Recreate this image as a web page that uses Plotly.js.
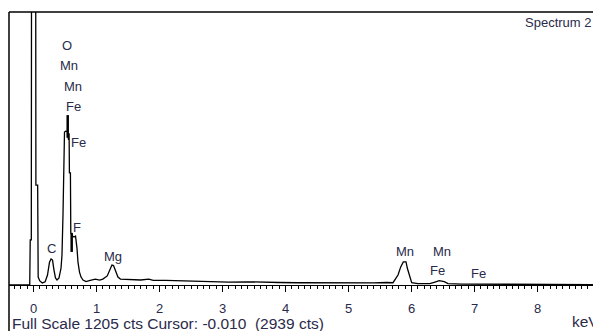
<!DOCTYPE html>
<html>
<head>
<meta charset="utf-8">
<script src="https://cdn.plot.ly/plotly-3.0.1.min.js"></script>
<style>
html,body{margin:0;padding:0;background:#fff;}
#chart{width:593px;height:331px;}
</style>
</head>
<body>
<div id="chart"></div>
<script>
// Spectrum: energy (keV) and counts
const energy = [-0.39,-0.06,-0.052,-0.035,-0.027,-0.010,0.030,0.038,0.066,0.074,0.100,0.140,0.185,0.222,0.254,0.278,0.302,0.325,0.349,0.373,0.405,0.437,0.452,0.468,0.481,0.492,0.516,0.540,0.556,0.565,0.570,0.586,0.592,0.600,0.619,0.643,0.667,0.690,0.706,0.730,0.754,0.786,0.833,0.90,0.98,1.05,1.10,1.17,1.21,1.245,1.27,1.30,1.34,1.38,1.5,1.7,1.83,1.9,2.1,2.3,2.5,2.8,3.1,3.4,3.6,3.9,4.2,4.5,4.8,5.1,5.4,5.6,5.706,5.786,5.829,5.870,5.913,5.933,5.965,6.003,6.10,6.29,6.36,6.44,6.52,6.58,6.8,7.2,7.6,8.0,8.5,8.9];
const counts = [0,0,199,199,2939,2939,2939,441,441,35,18,9,14,44,101,115,110,66,31,22,31,75,132,309,552,675,680,675,640,670,495,495,230,225,216,212,216,163,101,57,35,22,15,20,26,22,26,40,70,88,86,60,35,26,25,22,26,20,20,18,16,15,13,14,12,11,10,9,8,8,9,11,10,44,80,102,102,75,44,10,6,6,12,19,15,6,4,3,3,3,2,2];

// Element marker segments (keV, low/high counts)
const markerE = [0.543, 0.606];
const markerLo = [650, 146];
const markerHi = [750, 230];

// Element labels
const labelText = ["O","Mn","Mn","Fe","Fe","F","C","Mg","Mn","Mn","Fe","Fe"];
const labelE = [0.532,0.556,0.627,0.635,0.722,0.690,0.278,1.262,5.897,6.484,6.405,7.071];
const labelCts = [1059,971,874,790,627,256,159,128,146,150,66,49];

const tickVals = [0,1,2,3,4,5,6,7,8];
const tickText = ["0","1","2","3","4","5","6","7","8"];

const txtColor = '#2a2a4a';
const fontFam = 'Arial, "Liberation Sans", sans-serif';

const traces = [{
  x: energy, y: counts, type: 'scatter', mode: 'lines',
  line: {color: '#000', width: 1.3}, hoverinfo: 'skip'
}];
for (let i = 0; i < markerE.length; i++) {
  traces.push({
    x: [markerE[i], markerE[i]], y: [markerLo[i], markerHi[i]],
    type: 'scatter', mode: 'lines', line: {color: '#000', width: 2.5}, hoverinfo: 'skip'
  });
}

const annotations = labelText.map((t, i) => ({
  x: labelE[i], y: labelCts[i], xref: 'x', yref: 'y', text: t, showarrow: false,
  xanchor: 'center', yanchor: 'middle', font: {family: fontFam, size: 13, color: txtColor}
}));
annotations.push({
  x: 1, y: 0.963, xref: 'paper', yref: 'paper', text: 'Spectrum 2', showarrow: false,
  xanchor: 'right', yanchor: 'middle', font: {family: fontFam, size: 13, color: txtColor}
});
annotations.push({
  x: 0.0017, y: -0.1400, xref: 'paper', yref: 'paper',
  text: 'Full Scale 1205 cts Cursor: -0.010 &nbsp;(2939 cts)', showarrow: false,
  xanchor: 'left', yanchor: 'middle', font: {family: fontFam, size: 15.5, color: txtColor}
});
annotations.push({
  x: 0.9606, y: -0.134, xref: 'paper', yref: 'paper', text: 'keV', showarrow: false,
  xanchor: 'left', yanchor: 'middle', font: {family: fontFam, size: 15.5, color: txtColor}
});

const layout = {
  width: 593, height: 331,
  margin: {l: 9, r: 0, t: 12, b: 46, pad: 0},
  paper_bgcolor: '#fff', plot_bgcolor: '#fff',
  showlegend: false,
  xaxis: {
    range: [-0.389, 8.881], showgrid: false, zeroline: false,
    showline: true, linecolor: '#000', linewidth: 1.3,
    ticks: 'outside', ticklen: 6, tickwidth: 1.2, tickcolor: '#000',
    tickvals: tickVals, ticktext: tickText, ticklabelstandoff: 5,
    tickfont: {family: fontFam, size: 13, color: txtColor},
    minor: {dtick: 0.1, tick0: 0, ticks: 'outside', ticklen: 3, tickwidth: 1, tickcolor: '#000', showgrid: false},
    fixedrange: true
  },
  yaxis: {
    range: [0, 1205], showgrid: false, zeroline: false, showline: false,
    showticklabels: false, ticks: '', fixedrange: true
  },
  shapes: [
    {type: 'line', xref: 'paper', yref: 'paper', x0: 0, x1: 1, y0: 1, y1: 1, line: {color: '#000', width: 1.5}, layer: 'above'},
    {type: 'line', xref: 'paper', yref: 'paper', x0: 0, x1: 0, y0: -0.2, y1: 1, line: {color: '#000', width: 1.5}, layer: 'above'}
  ],
  annotations: annotations
};

Plotly.newPlot('chart', traces, layout, {displayModeBar: false, staticPlot: true});
</script>
</body>
</html>
